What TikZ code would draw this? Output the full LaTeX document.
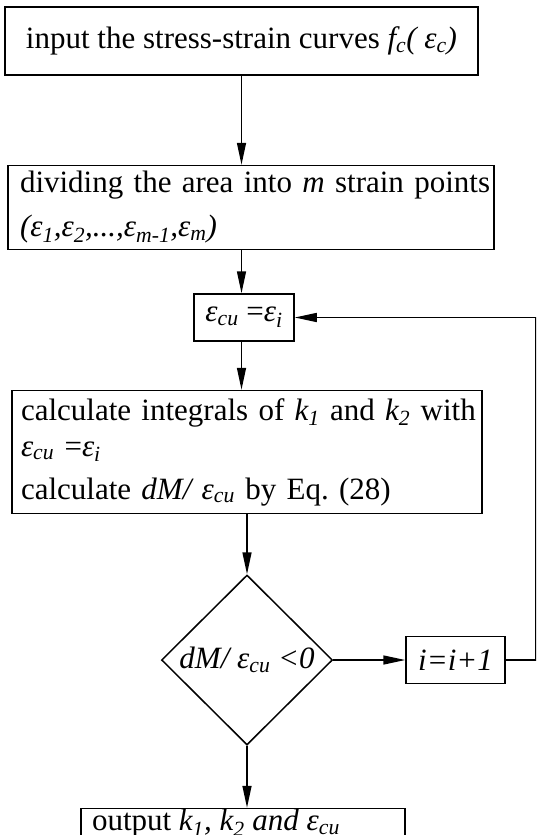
\documentclass[tikz,border=0pt]{standalone}
\usepackage{fontspec}
\setmainfont{Liberation Serif}
\usetikzlibrary{arrows.meta,positioning,shapes.geometric}
\newcommand{\ecu}{\textit{ε\textsubscript{cu}}}
\newcommand{\ei}{\textit{ε\textsubscript{i}}}

\begin{document}
\begin{tikzpicture}[x=1pt, y=-1pt, font=\fontsize{31}{36}\selectfont,
    stepbox/.style={draw, line width=1.5pt, inner sep=0pt},
    arr/.style={-{Triangle[length=22pt,width=9pt]}, line width=1.5pt}]
  \clip (0,0) rectangle (536,835);

  \node[stepbox, minimum width=473pt, minimum height=68pt] (b1) at (241.5,41)
    {input the stress-strain curves \textit{f\textsubscript{c}( ε\textsubscript{c})}};

  \node[stepbox, below=89pt of b1, xshift=9.5pt, minimum width=486pt, minimum height=84pt,
    text width=462pt, align=left] (b2)
    {\mbox{dividing the area into \textit{m} strain points}\\[8pt]
     \mbox{\textit{(ε\textsubscript{1},ε\textsubscript{2},...,ε\textsubscript{m-1},ε\textsubscript{m})}}};

  \node[stepbox, below=43pt of b2, xshift=-7pt, minimum width=100pt, minimum height=47pt] (b3)
    {\ecu{} =\ei};

  \node[stepbox, below=48pt of b3, xshift=3pt, minimum width=470pt, minimum height=123pt,
    text width=452pt, align=left] (b4)
    {\mbox{calculate integrals of \textit{k\textsubscript{1}} and \textit{k\textsubscript{2}} with}\\
     \mbox{\ecu{} =\ei}\\[7pt]
     \mbox{calculate \textit{dM/ ε\textsubscript{cu}} by Eq.\ (28)}};

  \node[diamond, draw, line width=1.5pt, inner sep=0pt, below=60pt of b4,
    minimum width=171pt, minimum height=170pt] (d1)
    {\textit{dM/ ε\textsubscript{cu} <0}};

  \node[stepbox, right=72pt of d1, minimum width=99pt, minimum height=47pt] (b5)
    {\textit{i=i+1}};

  \node[stepbox, below=62pt of d1, xshift=-4pt, minimum width=324pt,
    text height=22pt, text depth=14pt] (b6)
    {\makebox[302pt][l]{output \textit{k\textsubscript{1}, k\textsubscript{2} and ε\textsubscript{cu}}}};

  \draw[arr] (b1.south) -- (b1.south |- b2.north);
  \draw[arr] (b1.south |- b2.south) -- (b1.south |- b3.north);
  \draw[arr] (b1.south |- b3.south) -- (b1.south |- b4.north);
  \draw[arr] (d1.north |- b4.south) -- (d1.north);
  \draw[arr] (d1.east) -- (b5.west);
  \draw[arr] (b5.east) -- ++(30,0) |- (b3.east);
  \draw[arr] (d1.south) -- (d1.south |- b6.north);
\end{tikzpicture}
\end{document}
